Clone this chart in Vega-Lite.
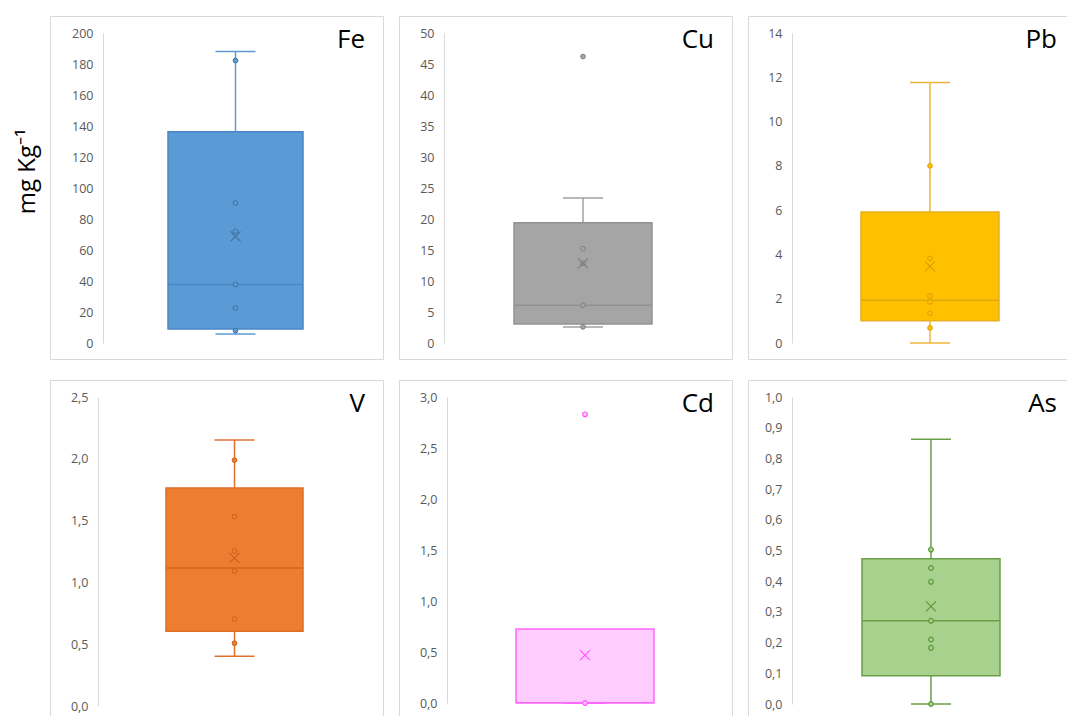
{
"$schema": "https://vega.github.io/schema/vega-lite/v6.json",
"padding": {"left": 15, "top": 15, "right": 0, "bottom": 0},
"datasets": {
"stats": [
{"metal": "Fe", "lo": 5.8, "q1": 9.0, "med": 37.8, "q3": 136.3, "hi": 188, "mean": 68.8},
{"metal": "Cu", "lo": 2.6, "q1": 3.05, "med": 6.1, "q3": 19.4, "hi": 23.4, "mean": 12.85},
{"metal": "Pb", "lo": 0.0, "q1": 1.01, "med": 1.93, "q3": 5.92, "hi": 11.77, "mean": 3.46},
{"metal": "V", "lo": 0.403, "q1": 0.605, "med": 1.116, "q3": 1.763, "hi": 2.153, "mean": 1.199},
{"metal": "Cd", "lo": 0.0, "q1": 0.003, "med": 0.003, "q3": 0.725, "hi": 0.0, "mean": 0.47},
{"metal": "As", "lo": 0.0, "q1": 0.092, "med": 0.271, "q3": 0.473, "hi": 0.862, "mean": 0.318}
],
"pts": [
{"metal": "Fe", "value": 182.2}, {"metal": "Fe", "value": 90.3}, {"metal": "Fe", "value": 72.0}, {"metal": "Fe", "value": 37.8}, {"metal": "Fe", "value": 22.6}, {"metal": "Fe", "value": 8.0},
{"metal": "Cu", "value": 46.2}, {"metal": "Cu", "value": 15.2}, {"metal": "Cu", "value": 12.85}, {"metal": "Cu", "value": 6.1}, {"metal": "Cu", "value": 2.6},
{"metal": "Pb", "value": 8.0}, {"metal": "Pb", "value": 3.82}, {"metal": "Pb", "value": 2.12}, {"metal": "Pb", "value": 1.85}, {"metal": "Pb", "value": 1.35}, {"metal": "Pb", "value": 0.68},
{"metal": "V", "value": 1.989}, {"metal": "V", "value": 1.532}, {"metal": "V", "value": 1.253}, {"metal": "V", "value": 1.091}, {"metal": "V", "value": 0.704}, {"metal": "V", "value": 0.508},
{"metal": "Cd", "value": 2.83}, {"metal": "Cd", "value": 0.0},
{"metal": "As", "value": 0.503}, {"metal": "As", "value": 0.443}, {"metal": "As", "value": 0.398}, {"metal": "As", "value": 0.271}, {"metal": "As", "value": 0.21}, {"metal": "As", "value": 0.183}, {"metal": "As", "value": 0.0}
]
},
"columns": 3,
"spacing": {"column": 14, "row": 19},
"concat": [
{
"width": 333, "height": 343,
"title": {"text": "Fe", "anchor": "end", "offset": -37, "dx": -18},
"encoding": {"x": {"field": "metal", "type": "nominal", "scale": {"range": [118, 253], "paddingInner": 0, "paddingOuter": 0}, "axis": null}},
"layer": [
{"data": {"name": "stats"}, "transform": [{"filter": "datum.metal === 'Fe'"}], "mark": {"type": "rule", "color": "#5B9BD5", "strokeWidth": 1.5},
 "encoding": {"y": {"field": "lo", "type": "quantitative", "scale": {"domain": [0, 200], "range": [327, 17], "nice": false, "zero": false},
   "axis": {"values": [0, 20, 40, 60, 80, 100, 120, 140, 160, 180, 200], "format": "d", "tickCount": 30, "labelOverlap": false, "offset": -53, "title": "mg Kg⁻¹", "titlePadding": 32, "titleY": 155}}, "y2": {"field": "hi"}}},
{"data": {"name": "stats"}, "transform": [{"filter": "datum.metal === 'Fe'"}], "mark": {"type": "bar", "fill": "#5B9BD5", "stroke": "#4A86C6", "strokeWidth": 1.5},
 "encoding": {"y": {"field": "q1", "type": "quantitative"}, "y2": {"field": "q3"}}},
{"data": {"name": "stats"}, "transform": [{"filter": "datum.metal === 'Fe'"}], "mark": {"type": "tick", "orient": "horizontal", "color": "#4A86C6", "size": 135, "thickness": 1.5, "opacity": 1},
 "encoding": {"y": {"field": "med", "type": "quantitative"}}},
{"data": {"name": "stats"}, "transform": [{"filter": "datum.metal === 'Fe'"}], "mark": {"type": "tick", "orient": "horizontal", "color": "#5B9BD5", "size": 40, "thickness": 1.5, "opacity": 1},
 "encoding": {"y": {"field": "lo", "type": "quantitative"}}},
{"data": {"name": "stats"}, "transform": [{"filter": "datum.metal === 'Fe'"}], "mark": {"type": "tick", "orient": "horizontal", "color": "#5B9BD5", "size": 40, "thickness": 1.5, "opacity": 1},
 "encoding": {"y": {"field": "hi", "type": "quantitative"}}},
{"data": {"name": "pts"}, "transform": [{"filter": "datum.metal === 'Fe'"}], "mark": {"type": "point", "shape": "circle", "filled": true, "fill": "#5B9BD5", "stroke": "#41719C", "strokeWidth": 1, "size": 22, "opacity": 1},
 "encoding": {"y": {"field": "value", "type": "quantitative"}}},
{"data": {"name": "stats"}, "transform": [{"filter": "datum.metal === 'Fe'"}], "mark": {"type": "point", "shape": "M-1,-1L1,1M-1,1L1,-1", "filled": false, "stroke": "#41719C", "strokeWidth": 1.2, "size": 100, "opacity": 1},
 "encoding": {"y": {"field": "mean", "type": "quantitative"}}}
]
},
{
"width": 333, "height": 343,
"title": {"text": "Cu", "anchor": "end", "offset": -37, "dx": -18},
"encoding": {"x": {"field": "metal", "type": "nominal", "scale": {"range": [115, 253], "paddingInner": 0, "paddingOuter": 0}, "axis": null}},
"layer": [
{"data": {"name": "stats"}, "transform": [{"filter": "datum.metal === 'Cu'"}], "mark": {"type": "rule", "color": "#A0A0A0", "strokeWidth": 1.5},
 "encoding": {"y": {"field": "lo", "type": "quantitative", "scale": {"domain": [0, 50], "range": [327, 17], "nice": false, "zero": false},
   "axis": {"values": [0, 5, 10, 15, 20, 25, 30, 35, 40, 45, 50], "format": "d", "tickCount": 30, "labelOverlap": false, "offset": -45, "title": null}}, "y2": {"field": "hi"}}},
{"data": {"name": "stats"}, "transform": [{"filter": "datum.metal === 'Cu'"}], "mark": {"type": "bar", "fill": "#A5A5A5", "stroke": "#929292", "strokeWidth": 1.5},
 "encoding": {"y": {"field": "q1", "type": "quantitative"}, "y2": {"field": "q3"}}},
{"data": {"name": "stats"}, "transform": [{"filter": "datum.metal === 'Cu'"}], "mark": {"type": "tick", "orient": "horizontal", "color": "#929292", "size": 138, "thickness": 1.5, "opacity": 1},
 "encoding": {"y": {"field": "med", "type": "quantitative"}}},
{"data": {"name": "stats"}, "transform": [{"filter": "datum.metal === 'Cu'"}], "mark": {"type": "tick", "orient": "horizontal", "color": "#A0A0A0", "size": 40, "thickness": 1.5, "opacity": 1},
 "encoding": {"y": {"field": "lo", "type": "quantitative"}}},
{"data": {"name": "stats"}, "transform": [{"filter": "datum.metal === 'Cu'"}], "mark": {"type": "tick", "orient": "horizontal", "color": "#A0A0A0", "size": 40, "thickness": 1.5, "opacity": 1},
 "encoding": {"y": {"field": "hi", "type": "quantitative"}}},
{"data": {"name": "pts"}, "transform": [{"filter": "datum.metal === 'Cu'"}], "mark": {"type": "point", "shape": "circle", "filled": true, "fill": "#A5A5A5", "stroke": "#7F7F7F", "strokeWidth": 1, "size": 22, "opacity": 1},
 "encoding": {"y": {"field": "value", "type": "quantitative"}}},
{"data": {"name": "stats"}, "transform": [{"filter": "datum.metal === 'Cu'"}], "mark": {"type": "point", "shape": "M-1,-1L1,1M-1,1L1,-1", "filled": false, "stroke": "#7F7F7F", "strokeWidth": 1.2, "size": 100, "opacity": 1},
 "encoding": {"y": {"field": "mean", "type": "quantitative"}}}
]
},
{
"width": 333, "height": 343,
"title": {"text": "Pb", "anchor": "end", "offset": -37, "dx": -24},
"encoding": {"x": {"field": "metal", "type": "nominal", "scale": {"range": [113, 251], "paddingInner": 0, "paddingOuter": 0}, "axis": null}},
"layer": [
{"data": {"name": "stats"}, "transform": [{"filter": "datum.metal === 'Pb'"}], "mark": {"type": "rule", "color": "#EDB63A", "strokeWidth": 1.5},
 "encoding": {"y": {"field": "lo", "type": "quantitative", "scale": {"domain": [0, 14], "range": [327, 17], "nice": false, "zero": false},
   "axis": {"values": [0, 2, 4, 6, 8, 10, 12, 14], "format": "d", "tickCount": 30, "labelOverlap": false, "offset": -44, "title": null}}, "y2": {"field": "hi"}}},
{"data": {"name": "stats"}, "transform": [{"filter": "datum.metal === 'Pb'"}], "mark": {"type": "bar", "fill": "#FFC000", "stroke": "#E8B020", "strokeWidth": 1.5},
 "encoding": {"y": {"field": "q1", "type": "quantitative"}, "y2": {"field": "q3"}}},
{"data": {"name": "stats"}, "transform": [{"filter": "datum.metal === 'Pb'"}], "mark": {"type": "tick", "orient": "horizontal", "color": "#E0A810", "size": 138, "thickness": 1.5, "opacity": 1},
 "encoding": {"y": {"field": "med", "type": "quantitative"}}},
{"data": {"name": "stats"}, "transform": [{"filter": "datum.metal === 'Pb'"}], "mark": {"type": "tick", "orient": "horizontal", "color": "#EDB63A", "size": 40, "thickness": 1.5, "opacity": 1},
 "encoding": {"y": {"field": "lo", "type": "quantitative"}}},
{"data": {"name": "stats"}, "transform": [{"filter": "datum.metal === 'Pb'"}], "mark": {"type": "tick", "orient": "horizontal", "color": "#EDB63A", "size": 40, "thickness": 1.5, "opacity": 1},
 "encoding": {"y": {"field": "hi", "type": "quantitative"}}},
{"data": {"name": "pts"}, "transform": [{"filter": "datum.metal === 'Pb'"}], "mark": {"type": "point", "shape": "circle", "filled": true, "fill": "#FFC000", "stroke": "#D9A000", "strokeWidth": 1, "size": 22, "opacity": 1},
 "encoding": {"y": {"field": "value", "type": "quantitative"}}},
{"data": {"name": "stats"}, "transform": [{"filter": "datum.metal === 'Pb'"}], "mark": {"type": "point", "shape": "M-1,-1L1,1M-1,1L1,-1", "filled": false, "stroke": "#D9A000", "strokeWidth": 1.2, "size": 100, "opacity": 1},
 "encoding": {"y": {"field": "mean", "type": "quantitative"}}}
]
},
{
"width": 333, "height": 343,
"title": {"text": "V", "anchor": "end", "offset": -37, "dx": -18},
"encoding": {"x": {"field": "metal", "type": "nominal", "scale": {"range": [116, 253], "paddingInner": 0, "paddingOuter": 0}, "axis": null}},
"layer": [
{"data": {"name": "stats"}, "transform": [{"filter": "datum.metal === 'V'"}], "mark": {"type": "rule", "color": "#E07030", "strokeWidth": 1.5},
 "encoding": {"y": {"field": "lo", "type": "quantitative", "scale": {"domain": [0, 2.5], "range": [326, 17], "nice": false, "zero": false},
   "axis": {"values": [0, 0.5, 1, 1.5, 2, 2.5], "tickCount": 30, "labelOverlap": false, "offset": -48, "title": null, "labelExpr": "replace(format(datum.value, '.1f'), '.', ',')"}}, "y2": {"field": "hi"}}},
{"data": {"name": "stats"}, "transform": [{"filter": "datum.metal === 'V'"}], "mark": {"type": "bar", "fill": "#ED7D31", "stroke": "#DC6E28", "strokeWidth": 1.5},
 "encoding": {"y": {"field": "q1", "type": "quantitative"}, "y2": {"field": "q3"}}},
{"data": {"name": "stats"}, "transform": [{"filter": "datum.metal === 'V'"}], "mark": {"type": "tick", "orient": "horizontal", "color": "#D4661E", "size": 137, "thickness": 1.5, "opacity": 1},
 "encoding": {"y": {"field": "med", "type": "quantitative"}}},
{"data": {"name": "stats"}, "transform": [{"filter": "datum.metal === 'V'"}], "mark": {"type": "tick", "orient": "horizontal", "color": "#E07030", "size": 40, "thickness": 1.5, "opacity": 1},
 "encoding": {"y": {"field": "lo", "type": "quantitative"}}},
{"data": {"name": "stats"}, "transform": [{"filter": "datum.metal === 'V'"}], "mark": {"type": "tick", "orient": "horizontal", "color": "#E07030", "size": 40, "thickness": 1.5, "opacity": 1},
 "encoding": {"y": {"field": "hi", "type": "quantitative"}}},
{"data": {"name": "pts"}, "transform": [{"filter": "datum.metal === 'V'"}], "mark": {"type": "point", "shape": "circle", "filled": true, "fill": "#ED7D31", "stroke": "#C9621E", "strokeWidth": 1, "size": 22, "opacity": 1},
 "encoding": {"y": {"field": "value", "type": "quantitative"}}},
{"data": {"name": "stats"}, "transform": [{"filter": "datum.metal === 'V'"}], "mark": {"type": "point", "shape": "M-1,-1L1,1M-1,1L1,-1", "filled": false, "stroke": "#C9621E", "strokeWidth": 1.2, "size": 100, "opacity": 1},
 "encoding": {"y": {"field": "mean", "type": "quantitative"}}}
]
},
{
"width": 333, "height": 343,
"title": {"text": "Cd", "anchor": "end", "offset": -37, "dx": -18},
"encoding": {"x": {"field": "metal", "type": "nominal", "scale": {"range": [117, 255], "paddingInner": 0, "paddingOuter": 0}, "axis": null}},
"layer": [
{"data": {"name": "stats"}, "transform": [{"filter": "datum.metal === 'Cd'"}], "mark": {"type": "rule", "color": "#FF66FF", "strokeWidth": 1.5},
 "encoding": {"y": {"field": "lo", "type": "quantitative", "scale": {"domain": [0, 3], "range": [323, 17], "nice": false, "zero": false},
   "axis": {"values": [0, 0.5, 1, 1.5, 2, 2.5, 3], "tickCount": 30, "labelOverlap": false, "offset": -48, "title": null, "labelExpr": "replace(format(datum.value, '.1f'), '.', ',')"}}, "y2": {"field": "hi"}}},
{"data": {"name": "stats"}, "transform": [{"filter": "datum.metal === 'Cd'"}], "mark": {"type": "bar", "fill": "#FFCCFF", "stroke": "#FF66FF", "strokeWidth": 1.5},
 "encoding": {"y": {"field": "q1", "type": "quantitative"}, "y2": {"field": "q3"}}},
{"data": {"name": "stats"}, "transform": [{"filter": "datum.metal === 'Cd'"}], "mark": {"type": "tick", "orient": "horizontal", "color": "#FF66FF", "size": 138, "thickness": 1.5, "opacity": 1},
 "encoding": {"y": {"field": "med", "type": "quantitative"}}},
{"data": {"name": "stats"}, "transform": [{"filter": "datum.metal === 'Cd'"}], "mark": {"type": "tick", "orient": "horizontal", "color": "#FF66FF", "size": 40, "thickness": 1.5, "opacity": 1},
 "encoding": {"y": {"field": "lo", "type": "quantitative"}}},
{"data": {"name": "stats"}, "transform": [{"filter": "datum.metal === 'Cd'"}], "mark": {"type": "tick", "orient": "horizontal", "color": "#FF66FF", "size": 40, "thickness": 1.5, "opacity": 1},
 "encoding": {"y": {"field": "hi", "type": "quantitative"}}},
{"data": {"name": "pts"}, "transform": [{"filter": "datum.metal === 'Cd'"}], "mark": {"type": "point", "shape": "circle", "filled": true, "fill": "#FFCCFF", "stroke": "#FF55FF", "strokeWidth": 1.2, "size": 22, "opacity": 1},
 "encoding": {"y": {"field": "value", "type": "quantitative"}}},
{"data": {"name": "stats"}, "transform": [{"filter": "datum.metal === 'Cd'"}], "mark": {"type": "point", "shape": "M-1,-1L1,1M-1,1L1,-1", "filled": false, "stroke": "#FF55FF", "strokeWidth": 1.2, "size": 100, "opacity": 1},
 "encoding": {"y": {"field": "mean", "type": "quantitative"}}}
]
},
{
"width": 333, "height": 343,
"title": {"text": "As", "anchor": "end", "offset": -37, "dx": -24},
"encoding": {"x": {"field": "metal", "type": "nominal", "scale": {"range": [114, 252], "paddingInner": 0, "paddingOuter": 0}, "axis": null}},
"layer": [
{"data": {"name": "stats"}, "transform": [{"filter": "datum.metal === 'As'"}], "mark": {"type": "rule", "color": "#6A9F45", "strokeWidth": 1.5},
 "encoding": {"y": {"field": "lo", "type": "quantitative", "scale": {"domain": [0, 1], "range": [324, 17], "nice": false, "zero": false},
   "axis": {"values": [0, 0.1, 0.2, 0.3, 0.4, 0.5, 0.6, 0.7, 0.8, 0.9, 1], "tickCount": 30, "labelOverlap": false, "offset": -44, "title": null, "labelExpr": "replace(format(datum.value, '.1f'), '.', ',')"}}, "y2": {"field": "hi"}}},
{"data": {"name": "stats"}, "transform": [{"filter": "datum.metal === 'As'"}], "mark": {"type": "bar", "fill": "#A9D18E", "stroke": "#6A9F45", "strokeWidth": 1.5},
 "encoding": {"y": {"field": "q1", "type": "quantitative"}, "y2": {"field": "q3"}}},
{"data": {"name": "stats"}, "transform": [{"filter": "datum.metal === 'As'"}], "mark": {"type": "tick", "orient": "horizontal", "color": "#6A9F45", "size": 138, "thickness": 1.5, "opacity": 1},
 "encoding": {"y": {"field": "med", "type": "quantitative"}}},
{"data": {"name": "stats"}, "transform": [{"filter": "datum.metal === 'As'"}], "mark": {"type": "tick", "orient": "horizontal", "color": "#6A9F45", "size": 40, "thickness": 1.5, "opacity": 1},
 "encoding": {"y": {"field": "lo", "type": "quantitative"}}},
{"data": {"name": "stats"}, "transform": [{"filter": "datum.metal === 'As'"}], "mark": {"type": "tick", "orient": "horizontal", "color": "#6A9F45", "size": 40, "thickness": 1.5, "opacity": 1},
 "encoding": {"y": {"field": "hi", "type": "quantitative"}}},
{"data": {"name": "pts"}, "transform": [{"filter": "datum.metal === 'As'"}], "mark": {"type": "point", "shape": "circle", "filled": true, "fill": "#A9D18E", "stroke": "#5E9A3A", "strokeWidth": 1.2, "size": 22, "opacity": 1},
 "encoding": {"y": {"field": "value", "type": "quantitative"}}},
{"data": {"name": "stats"}, "transform": [{"filter": "datum.metal === 'As'"}], "mark": {"type": "point", "shape": "M-1,-1L1,1M-1,1L1,-1", "filled": false, "stroke": "#5E9A3A", "strokeWidth": 1.2, "size": 100, "opacity": 1},
 "encoding": {"y": {"field": "mean", "type": "quantitative"}}}
]
}
],
"config": {
"view": {"stroke": "#D9D9D9", "strokeWidth": 1},
"axis": {"domainColor": "#D9D9D9", "domainWidth": 1, "ticks": false, "grid": false, "labelOverlap": false, "labelColor": "#595959", "labelFont": "Open Sans", "labelFontSize": 12.5, "labelPadding": 10, "titleFont": "Open Sans", "titleFontSize": 24, "titleFontWeight": "normal", "titleColor": "#000000"},
"title": {"font": "Open Sans", "fontSize": 26, "fontWeight": "normal", "color": "#000000"}
}
}
